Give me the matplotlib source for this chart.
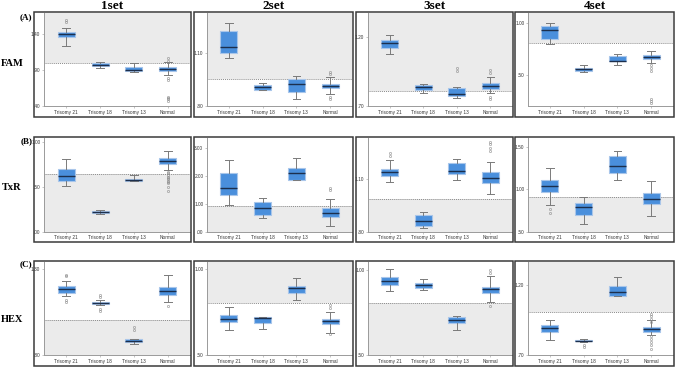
import matplotlib
matplotlib.use("Agg")
import matplotlib.pyplot as plt
from matplotlib.patches import Rectangle
from matplotlib.ticker import FixedLocator, FuncFormatter

categories = ["Trisomy 21", "Trisomy 18", "Trisomy 13", "Normal"]
set_titles = ["1set", "2set", "3set", "4set"]
dye_labels = ["FAM", "TxR", "HEX"]
row_tags = ["(A)", "(B)", "(C)"]

# box stats per category: (whislo, q1, med, q3, whishi)
fam_1set = [(1.245, 1.362, 1.404, 1.432, 1.488), (0.932, 0.956, 0.974, 0.998, 1.016),
            (0.872, 0.886, 0.908, 0.946, 0.998), (0.830, 0.894, 0.918, 0.942, 1.016)]
fam_1set_out = [[1.604, 1.580], [], [], [1.068, 1.030, 0.788, 0.760, 0.530, 0.510, 0.494, 0.470]]
fam_2set = [(1.072, 1.100, 1.138, 1.227, 1.271), (0.889, 0.893, 0.910, 0.920, 0.929),
            (0.840, 0.878, 0.924, 0.952, 0.969), (0.867, 0.901, 0.914, 0.927, 0.963)]
fam_2set_out = [[], [], [], [0.995, 0.984, 0.853, 0.840]]
fam_3set = [(1.077, 1.115, 1.153, 1.174, 1.210), (0.792, 0.815, 0.835, 0.849, 0.856),
            (0.757, 0.773, 0.789, 0.832, 0.835), (0.794, 0.822, 0.844, 0.865, 0.912)]
fam_3set_out = [[], [], [0.971, 0.950], [0.957, 0.936, 0.768, 0.747]]
fam_4set = [(0.802, 0.852, 0.931, 0.969, 0.997), (0.528, 0.544, 0.557, 0.572, 0.597),
            (0.594, 0.635, 0.639, 0.686, 0.705), (0.620, 0.654, 0.676, 0.695, 0.736)]
fam_4set_out = [[], [], [], [0.601, 0.572, 0.541, 0.274, 0.255, 0.233]]

txr_1set = [(0.509, 0.569, 0.617, 0.699, 0.807), (0.193, 0.208, 0.223, 0.234, 0.242),
            (0.569, 0.569, 0.580, 0.591, 0.628), (0.688, 0.751, 0.784, 0.818, 0.900)]
txr_1set_out = [[], [], [], [0.669, 0.651, 0.630, 0.613, 0.600, 0.584, 0.565, 0.550, 0.539, 0.502, 0.457]]
txr_2set = [(0.968, 1.320, 1.570, 2.100, 2.562), (0.496, 0.602, 0.862, 1.050, 1.216),
            (1.854, 1.854, 2.100, 2.290, 2.633), (0.189, 0.508, 0.661, 0.862, 1.180)]
txr_2set_out = [[], [], [], [1.547, 1.476]]
txr_3set = [(1.083, 1.119, 1.1375, 1.158, 1.205), (0.821, 0.834, 0.862, 0.892, 0.909),
            (1.094, 1.130, 1.147, 1.190, 1.2125), (1.016, 1.0775, 1.106, 1.141, 1.196)]
txr_3set_out = [[1.250, 1.233], [], [], [1.312, 1.297, 1.278, 1.261]]
txr_4set = [(0.814, 0.965, 1.039, 1.112, 1.248), (0.589, 0.698, 0.783, 0.837, 0.911),
            (1.109, 1.190, 1.275, 1.391, 1.454), (0.678, 0.829, 0.888, 0.957, 1.097)]
txr_4set_out = [[0.764, 0.717], [], [], []]

hex_1set = [(1.142, 1.161, 1.183, 1.200, 1.234), (1.089, 1.097, 1.103, 1.111, 1.122),
            (0.863, 0.874, 0.884, 0.894, 0.896), (1.109, 1.152, 1.173, 1.196, 1.265)]
hex_1set_out = [[1.269, 1.259, 1.122, 1.107], [1.150, 1.136, 1.070, 1.054], [0.962, 0.946], [1.087]]
hex_2set = [(0.645, 0.691, 0.707, 0.734, 0.782), (0.654, 0.685, 0.714, 0.724, 0.724),
            (0.820, 0.863, 0.892, 0.903, 0.950), (0.627, 0.678, 0.697, 0.712, 0.753)]
hex_2set_out = [[], [], [], [0.792, 0.774, 0.620]]
hex_3set = [(0.877, 0.914, 0.9375, 0.959, 1.006), (0.885, 0.896, 0.910, 0.924, 0.945),
            (0.645, 0.6875, 0.705, 0.723, 0.727), (0.811, 0.865, 0.889, 0.902, 0.967)]
hex_3set_out = [[], [], [], [1.002, 0.982, 0.787]]
hex_4set = [(0.806, 0.863, 0.896, 0.915, 0.948), (0.794, 0.797, 0.799, 0.804, 0.818),
            (1.120, 1.120, 1.150, 1.195, 1.261), (0.841, 0.867, 0.889, 0.900, 0.948)]
hex_4set_out = [[], [0.775, 0.757], [], [0.995, 0.978, 0.959, 0.936, 0.834, 0.818, 0.794, 0.775, 0.742]]

# cutoff lines and whether the shaded area is above the cutoff
fam_cut = [1.005, 0.955, 0.808, 0.808]
txr_cut = [0.639, 0.933, 0.9875, 0.911]
hex_cut = [1.003, 0.805, 0.807, 1.009]
fam_shade_above = [True, True, True, True]
txr_shade_above = [False, False, False, False]
hex_shade_above = [False, True, False, True]

# y ticks per panel
fam_ticks = [[0.40, 0.90, 1.40], [0.80, 1.10], [0.70, 1.20], [0.50, 1.00]]
txr_ticks = [[0.00, 0.50, 1.00], [0.00, 1.00, 2.00, 3.00], [0.80, 1.10], [0.50, 1.00, 1.50]]
hex_ticks = [[0.80, 1.30], [0.50, 1.00], [0.50, 1.00], [0.70, 1.20]]
fam_ylim = [(0.40, 1.70), (0.80, 1.33), (0.70, 1.37), (0.205, 1.097)]
txr_ylim = [(0.00, 1.05), (0.00, 3.38), (0.80, 1.336), (0.50, 1.608)]
hex_ylim = [(0.80, 1.345), (0.50, 1.045), (0.50, 1.05), (0.70, 1.37)]

panels = [
    [(fam_1set, fam_1set_out), (fam_2set, fam_2set_out), (fam_3set, fam_3set_out), (fam_4set, fam_4set_out)],
    [(txr_1set, txr_1set_out), (txr_2set, txr_2set_out), (txr_3set, txr_3set_out), (txr_4set, txr_4set_out)],
    [(hex_1set, hex_1set_out), (hex_2set, hex_2set_out), (hex_3set, hex_3set_out), (hex_4set, hex_4set_out)],
]
cuts = [fam_cut, txr_cut, hex_cut]
shade_above = [fam_shade_above, txr_shade_above, hex_shade_above]
ticks = [fam_ticks, txr_ticks, hex_ticks]
ylims = [fam_ylim, txr_ylim, hex_ylim]

W, H = 676, 367
fig = plt.figure(figsize=(W / 100, H / 100), dpi=100)
fig.patch.set_facecolor("white")

frame_x = [(34, 191), (194, 353), (356, 513), (515, 674)]
axes_x = [(44, 190), (207, 352), (368, 512), (528, 673)]
frame_y = [(12, 117), (136.5, 241.5), (260.5, 366)]
axes_y = [(13, 106), (137.5, 231.5), (261.5, 355)]

def fmt(v, _pos=None):
    s = f"{v:.2f}"
    if s.startswith("0"):
        s = s[1:]
    return s

serif = ["Liberation Serif", "DejaVu Serif"]
sans = ["Liberation Sans", "DejaVu Sans"]

for r in range(3):
    for c in range(4):
        fx0, fx1 = frame_x[c]
        fy0, fy1 = frame_y[r]
        fig.patches.append(Rectangle((fx0 / W, 1 - fy1 / H), (fx1 - fx0) / W, (fy1 - fy0) / H,
                                     transform=fig.transFigure, fill=False,
                                     edgecolor="#3a3a3a", linewidth=1.1, zorder=0))
        ax0, ax1 = axes_x[c]
        ay0, ay1 = axes_y[r]
        ax = fig.add_axes([ax0 / W, 1 - ay1 / H, (ax1 - ax0) / W, (ay1 - ay0) / H])
        ax.set_facecolor("white")
        stats_list, outs = panels[r][c]
        stats = []
        for lab, s, o in zip(categories, stats_list, outs):
            stats.append(dict(label=lab, whislo=s[0], q1=s[1], med=s[2], q3=s[3],
                              whishi=s[4], fliers=o))
        lo, hi = ylims[r][c]
        cut = cuts[r][c]
        if shade_above[r][c]:
            ax.axhspan(cut, hi, color="#ebebeb", zorder=0, lw=0)
        else:
            ax.axhspan(lo, cut, color="#ebebeb", zorder=0, lw=0)
        ax.axhline(cut, color="#8a8a8a", linestyle=(0, (1, 1)), linewidth=0.7, zorder=1)
        ax.bxp(stats, positions=[1, 2, 3, 4], widths=0.5, capwidths=0.22,
               patch_artist=True, showfliers=True,
               boxprops=dict(facecolor="#4a8fdc", edgecolor="#a9c6ea", linewidth=0.8),
               medianprops=dict(color="#1c2f4d", linewidth=1.0),
               whiskerprops=dict(color="#7a7a7a", linewidth=0.7),
               capprops=dict(color="#7a7a7a", linewidth=0.7),
               flierprops=dict(marker="o", markersize=1.6, markerfacecolor="none",
                               markeredgecolor="#8a8a8a", markeredgewidth=0.4))
        ax.set_xlim(0.35, 4.65)
        ax.set_ylim(lo, hi)
        ax.yaxis.set_major_locator(FixedLocator(ticks[r][c]))
        ax.yaxis.set_major_formatter(FuncFormatter(fmt))
        for sp in ["top", "right"]:
            ax.spines[sp].set_visible(False)
        for sp in ["left", "bottom"]:
            ax.spines[sp].set_color("#9a9a9a")
            ax.spines[sp].set_linewidth(0.7)
        ax.tick_params(axis="both", length=1.5, width=0.4, color="#9a9a9a",
                       labelsize=3.4, labelcolor="#333333", pad=1.2)
        for t in ax.get_xticklabels() + ax.get_yticklabels():
            t.set_family(sans)
        if r == 0:
            fig.text((fx0 + fx1) / 2 / W, 1 - 6 / H, set_titles[c], ha="center", va="center",
                     fontsize=9.5, fontweight="bold", family=serif)

row_tag_y = [17, 141, 264]
row_lab_y = [63, 188, 319]
for r in range(3):
    fig.text(32.5 / W, 1 - row_tag_y[r] / H, row_tags[r], ha="right", va="center",
             fontsize=6.5, fontweight="bold", family=serif)
    fig.text(12 / W, 1 - row_lab_y[r] / H, dye_labels[r], ha="center", va="center",
             fontsize=7.5, fontweight="bold", family=serif)

fig.savefig("out.png", dpi=100, facecolor="white")
